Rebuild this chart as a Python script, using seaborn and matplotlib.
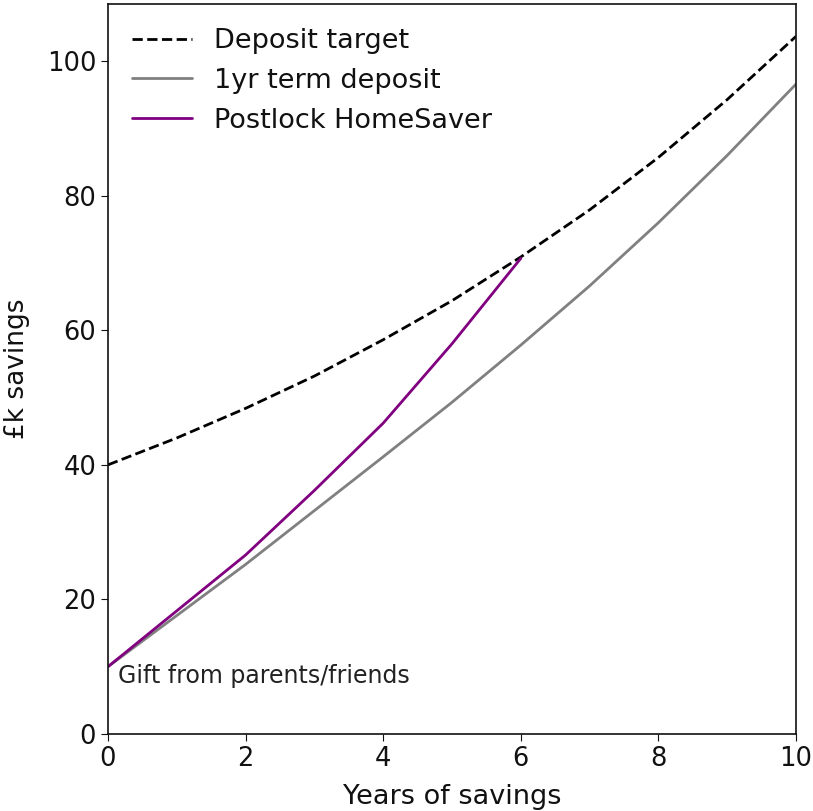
import matplotlib
matplotlib.use("Agg")
import matplotlib.pyplot as plt
import seaborn as sns

# Savings projections, £k by year
years = [0, 1, 2, 3, 4, 5, 6, 7, 8, 9, 10]
deposit_target = [40.0, 44.0, 48.4, 53.2, 58.6, 64.4, 70.9, 77.9, 85.7, 94.3, 103.7]
term_deposit = [10.0, 17.6, 25.2, 33.2, 41.2, 49.3, 57.8, 66.6, 76.0, 86.0, 96.6]
homesaver_years = [0, 1, 2, 3, 4, 5, 6]
homesaver = [10.0, 18.3, 26.6, 36.2, 46.2, 58.0, 70.7]

sns.set_style("ticks")
plt.rcParams["font.family"] = ["DejaVu Sans"]
plt.rcParams["text.color"] = "#111111"
plt.rcParams["axes.labelcolor"] = "#111111"
plt.rcParams["xtick.color"] = "#111111"
plt.rcParams["ytick.color"] = "#111111"

fig = plt.figure(figsize=(8.13, 8.11), dpi=100)
ax = fig.add_axes([0.1328, 0.095, 0.8463, 0.900])

sns.lineplot(x=years, y=deposit_target, ax=ax, color="black", linestyle="--",
             linewidth=2.0, label="Deposit target")
sns.lineplot(x=years, y=term_deposit, ax=ax, color="grey", linewidth=2.0,
             label="1yr term deposit")
sns.lineplot(x=homesaver_years, y=homesaver, ax=ax, color="purple",
             linewidth=2.0, label="Postlock HomeSaver")

ax.text(0.15, 8.6, "Gift from parents/friends", fontsize=17,
        ha="left", va="center", color="#222222")

ax.set_xlim(0, 10)
ax.set_ylim(0, 108.5)
ax.set_xlabel("Years of savings", fontsize=19.5, labelpad=9)
ax.set_ylabel("£k savings", fontsize=19, labelpad=12)
ax.tick_params(labelsize=18.5, length=5, color="#111111")
for s in ax.spines.values():
    s.set_visible(True)
    s.set_linewidth(1.2)
    s.set_color("#111111")

leg = ax.legend(loc="upper left", fontsize=19.5, frameon=False,
                handlelength=2.2, handletextpad=0.8, labelspacing=0.5,
                borderaxespad=0.5)

fig.savefig("out.png", dpi=100)
